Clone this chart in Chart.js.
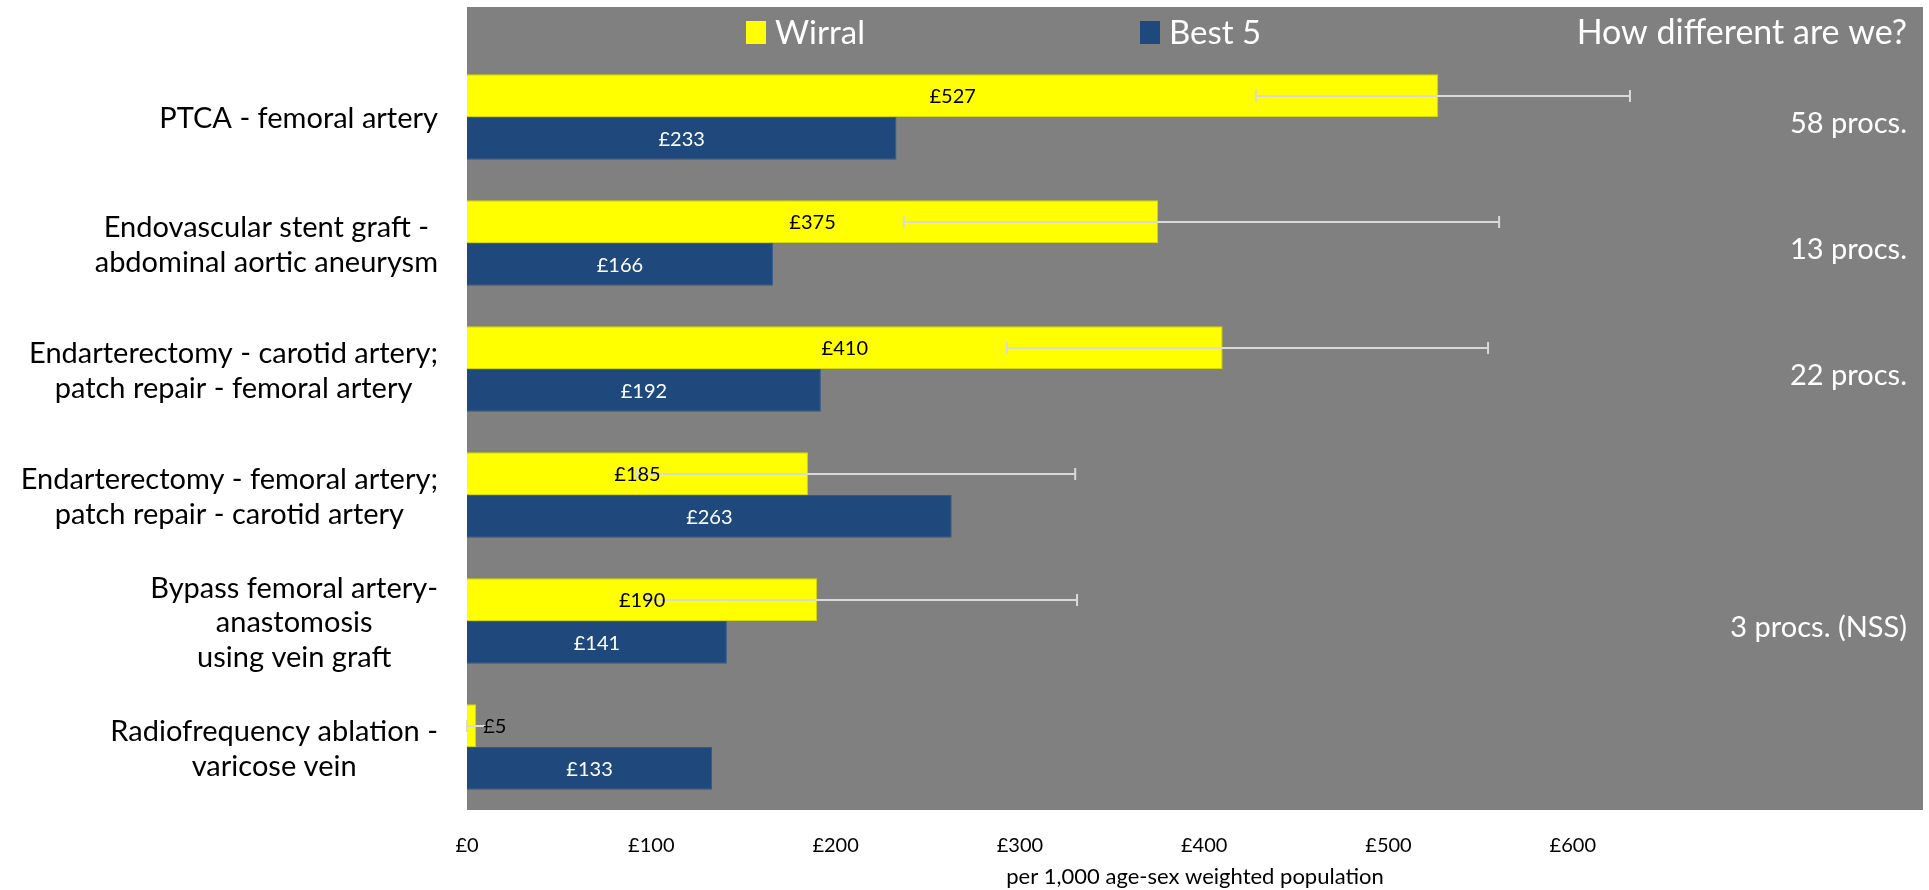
<!DOCTYPE html>
<html>
<head>
<meta charset="utf-8">
<script src="https://cdn.jsdelivr.net/npm/chart.js@4.4.0/dist/chart.umd.min.js"></script>
<style>
  html, body { margin: 0; padding: 0; background: #fff; overflow: hidden; }
  #wrap { width: 1929px; height: 890px; position: relative; }
  canvas { display: block; }
</style>
</head>
<body>
<div id="wrap"><canvas id="costChart"></canvas></div>
<script>
// values
const categories = [
    ['PTCA - femoral artery'],
    ['Endovascular stent graft -', 'abdominal aortic aneurysm'],
    ['Endarterectomy - carotid artery;', 'patch repair - femoral artery'],
    ['Endarterectomy - femoral artery;', 'patch repair - carotid artery'],
    ['Bypass femoral artery-', 'anastomosis', 'using vein graft'],
    ['Radiofrequency ablation -', 'varicose vein']
];
const wirral = [527, 375, 410, 185, 190, 5];
const best5 = [233, 166, 192, 263, 141, 133];
const wirralLow = [428, 237, 293, 92, 98, 0];
const wirralHigh = [631, 560, 554, 330, 331, 11];
const procs = ['58 procs.', '13 procs.', '22 procs.', '', '3 procs. (NSS)', ''];
const xTicks = [0, 100, 200, 300, 400, 500, 600];

const FONT = 'Lato';
const GREY = '#808080';

// grey panel behind the plot and the legend strip
const panelBg = {
    id: 'panelBg',
    beforeDraw(chart) {
        const {ctx, chartArea} = chart;
        ctx.save();
        ctx.fillStyle = GREY;
        ctx.fillRect(chartArea.left, 7, chartArea.right - chartArea.left, chartArea.bottom - 7);
        ctx.restore();
    }
};

// error bars on the Wirral series, then the value labels
const barExtras = {
    id: 'barExtras',
    afterDatasetsDraw(chart) {
        const {ctx} = chart;
        const xs = chart.scales.x;
        const meta0 = chart.getDatasetMeta(0);

        ctx.save();
        ctx.strokeStyle = '#d9d9d9';
        ctx.lineWidth = 2;
        meta0.data.forEach((bar, i) => {
            const x1 = xs.getPixelForValue(wirralLow[i]);
            const x2 = xs.getPixelForValue(wirralHigh[i]);
            const y = Math.round(bar.y);
            ctx.beginPath();
            ctx.moveTo(x1, y); ctx.lineTo(x2, y);
            ctx.moveTo(x1, y - 6); ctx.lineTo(x1, y + 6);
            ctx.moveTo(x2, y - 6); ctx.lineTo(x2, y + 6);
            ctx.stroke();
        });

        ctx.font = '20px ' + FONT;
        ctx.textBaseline = 'middle';
        chart.data.datasets.forEach((ds, d) => {
            const meta = chart.getDatasetMeta(d);
            ctx.fillStyle = ds.labelColor;
            meta.data.forEach((bar, i) => {
                const txt = '£' + ds.data[i];
                const w = ctx.measureText(txt).width;
                const len = bar.x - bar.base;
                if (w + 6 > len) {
                    ctx.textAlign = 'left';
                    ctx.fillText(txt, bar.x + 7, bar.y + 1);
                } else {
                    ctx.textAlign = 'center';
                    ctx.fillText(txt, (bar.x + bar.base) / 2, bar.y + 1);
                }
            });
        });
        ctx.restore();
    }
};

// category names, legend and the right-hand notes
const sideText = {
    id: 'sideText',
    afterDraw(chart) {
        const {ctx, chartArea} = chart;
        const ys = chart.scales.y;
        ctx.save();
        ctx.textBaseline = 'middle';

        // category labels: block right-aligned, lines centred in block
        ctx.font = '29px ' + FONT;
        ctx.fillStyle = '#000';
        ctx.textAlign = 'center';
        const rightEdge = chartArea.left - 29;
        const lineH = 34.5;
        chart.data.labels.forEach((lines, i) => {
            const maxW = Math.max(...lines.map(l => ctx.measureText(l).width));
            const cx = rightEdge - maxW / 2;
            const cy = ys.getPixelForValue(i) + 2;
            lines.forEach((l, k) => {
                ctx.fillText(l, cx, cy + (k - (lines.length - 1) / 2) * lineH);
            });
        });

        // legend
        ctx.font = '33px ' + FONT;
        ctx.textAlign = 'left';
        const legendX = [chartArea.left + 279, chartArea.left + 673];
        chart.data.datasets.forEach((ds, d) => {
            ctx.fillStyle = ds.backgroundColor;
            ctx.fillRect(legendX[d], 21, 20, 23);
            ctx.fillStyle = '#fff';
            ctx.fillText(ds.label, legendX[d] + 29, 33);
        });

        // right-hand notes
        ctx.textAlign = 'right';
        ctx.fillStyle = '#fff';
        ctx.font = '34px ' + FONT;
        ctx.fillText('How different are we?', chartArea.right - 16, 33);
        ctx.font = '29px ' + FONT;
        procs.forEach((p, i) => {
            if (p) ctx.fillText(p, chartArea.right - 16, ys.getPixelForValue(i) + 7);
        });
        ctx.restore();
    }
};

new Chart(document.getElementById('costChart'), {
    type: 'bar',
    data: {
        labels: categories,
        datasets: [{
            label: 'Wirral',
            data: wirral,
            backgroundColor: '#ffff00',
            borderColor: '#d6d600',
            borderWidth: 1,
            labelColor: '#000'
        }, {
            label: 'Best 5',
            data: best5,
            backgroundColor: '#1f497d',
            borderColor: '#2f5a8c',
            borderWidth: 1,
            labelColor: '#fff'
        }]
    },
    options: {
        indexAxis: 'y',
        responsive: true,
        maintainAspectRatio: false,
        animation: false,
        categoryPercentage: 0.68,
        barPercentage: 1.0,
        layout: {
            padding: {left: 467, right: 6, top: 54, bottom: 0}
        },
        plugins: {
            legend: {display: false},
            tooltip: {enabled: false}
        },
        scales: {
            x: {
                type: 'linear',
                min: 0,
                max: 790,
                grid: {display: false, drawTicks: false},
                border: {display: false},
                afterBuildTicks: (scale) => {
                    scale.ticks = xTicks.map(v => ({value: v}));
                },
                afterFit: (scale) => {
                    scale.height = 80;
                },
                ticks: {
                    autoSkip: false,
                    maxRotation: 0,
                    padding: 24,
                    color: '#000',
                    font: {family: FONT, size: 20},
                    callback: (v, i, ticks) => '£' + ticks[i].value
                },
                title: {
                    display: true,
                    text: 'per 1,000 age-sex weighted population',
                    color: '#000',
                    font: {family: FONT, size: 22},
                    padding: {top: 6, bottom: 0}
                }
            },
            y: {
                type: 'category',
                grid: {display: false, drawTicks: false},
                border: {display: false},
                ticks: {display: false}
            }
        }
    },
    plugins: [panelBg, barExtras, sideText]
});
</script>
</body>
</html>
